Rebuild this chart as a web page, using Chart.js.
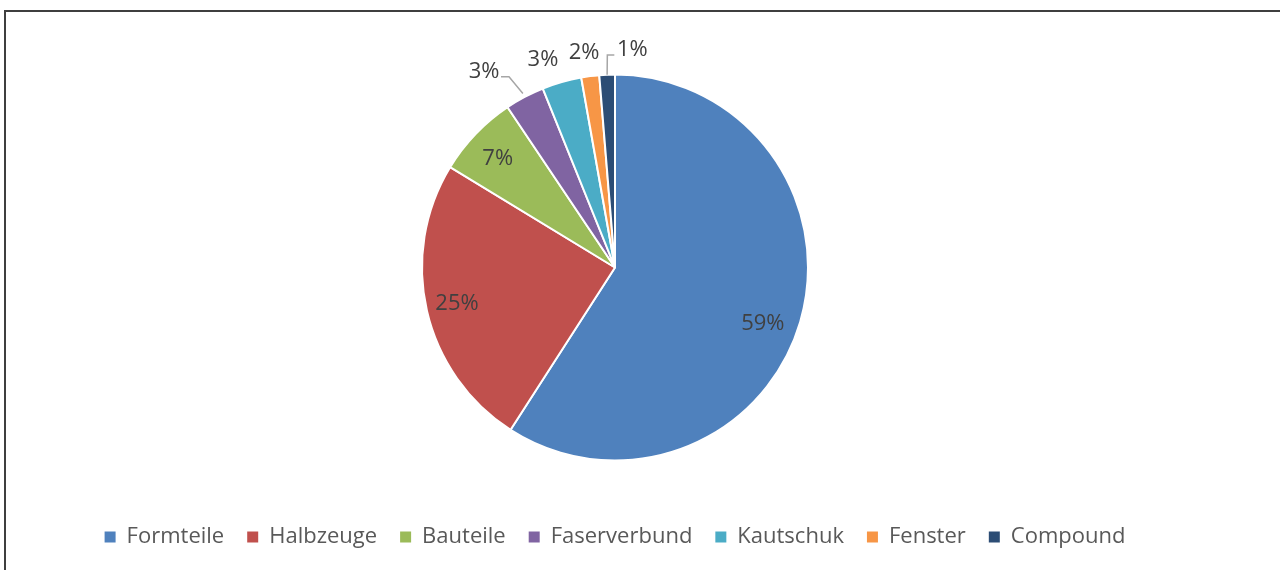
<!DOCTYPE html>
<html>
<head>
<meta charset="utf-8">
<script src="https://cdn.jsdelivr.net/npm/chart.js@4.4.1/dist/chart.umd.min.js"></script>
<style>
    html, body { margin: 0; padding: 0; background: #fff; overflow: hidden; }
    #wrap { position: relative; width: 1280px; height: 570px; overflow: hidden; }
    #frame {
        position: absolute; left: 4px; top: 10px; right: -10px; bottom: -10px;
        border-top: 2px solid #3f3f3f; border-left: 2px solid #3f3f3f;
    }
    #shareChart { position: absolute; left: 0; top: 0; }
</style>
</head>
<body>
<div id="wrap">
    <div id="frame"></div>
    <canvas id="shareChart" width="1280" height="570"></canvas>
</div>
<script>
// product groups and their share (%)
const categories = ['Formteile', 'Halbzeuge', 'Bauteile', 'Faserverbund', 'Kautschuk', 'Fenster', 'Compound'];
const shares = [59.1, 24.6, 6.9, 3.3, 3.3, 1.5, 1.3];
const percentLabels = ['59%', '25%', '7%', '3%', '3%', '2%', '1%'];
const sliceColors = ['#4f81bd', '#c0504d', '#9bbb59', '#8064a2', '#4bacc6', '#f79646', '#2c4d75'];

// where each percent label goes: radius factor + angle shift (deg) from slice middle
const labelPlace = [
    { r: 0.82, da: 4.5 },
    { r: 0.84, da: 0 },
    { r: 0.83, da: -0.8 },
    { r: 1.22, da: -5.9 },
    { r: 1.14, da: -3.1 },
    { r: 1.125, da: -0.8 },
    { r: 1.13, da: 6.9 },
];
// leader lines (start radius factor, elbow + end offsets from label centre)
const leaders = {
    3: { from: 1.02, elbow: [25, 5], end: [17, 5] },
    6: { from: 1.0, elbow: [-25, 5], end: [-18, 5] },
};

const FONT = '"Open Sans", "Noto Sans", sans-serif';

const percentLabelPlugin = {
    id: 'percentLabels',
    afterDatasetsDraw(chart) {
        const ctx = chart.ctx;
        const meta = chart.getDatasetMeta(0);
        ctx.save();
        ctx.font = '22px ' + FONT;
        ctx.fillStyle = '#404040';
        ctx.textAlign = 'center';
        ctx.textBaseline = 'middle';
        meta.data.forEach((arc, i) => {
            const R = arc.outerRadius;
            const mid = (arc.startAngle + arc.endAngle) / 2;
            const place = labelPlace[i];
            const a = mid + place.da * Math.PI / 180;
            const lx = arc.x + Math.cos(a) * R * place.r;
            const ly = arc.y + Math.sin(a) * R * place.r;

            const ld = leaders[i];
            if (ld) {
                ctx.strokeStyle = '#a6a6a6';
                ctx.lineWidth = 1.5;
                ctx.beginPath();
                ctx.moveTo(arc.x + Math.cos(mid) * R * ld.from, arc.y + Math.sin(mid) * R * ld.from);
                ctx.lineTo(lx + ld.elbow[0], ly + ld.elbow[1]);
                ctx.lineTo(lx + ld.end[0], ly + ld.end[1]);
                ctx.stroke();
            }
            ctx.fillText(percentLabels[i], lx, ly);
        });
        ctx.restore();
    }
};

const chartOptions = {
    responsive: false,
    animation: false,
    events: [],
    rotation: 0,
    layout: {
        padding: {
            left: 0,
            right: 50,
            top: 32,
            bottom: 12,
        },
    },
    plugins: {
        tooltip: { enabled: false },
        legend: {
            display: true,
            position: 'bottom',
            labels: {
                boxWidth: 11,
                boxHeight: 11,
                padding: 23,
                color: '#595959',
                font: { family: FONT, size: 22 },
                generateLabels: (chart) => {
                    const items = Chart.overrides.pie.plugins.legend.labels.generateLabels(chart);
                    return items.map(it => Object.assign(it, { lineWidth: 0, strokeStyle: 'rgba(0,0,0,0)' }));
                },
            },
        },
    },
};

new Chart(document.getElementById('shareChart'), {
    type: 'pie',
    data: {
        labels: categories,
        datasets: [{
            data: shares,
            backgroundColor: sliceColors,
            borderColor: '#ffffff',
            borderWidth: 2,
            radius: 193,
        }],
    },
    options: chartOptions,
    plugins: [percentLabelPlugin],
});
</script>
</body>
</html>
